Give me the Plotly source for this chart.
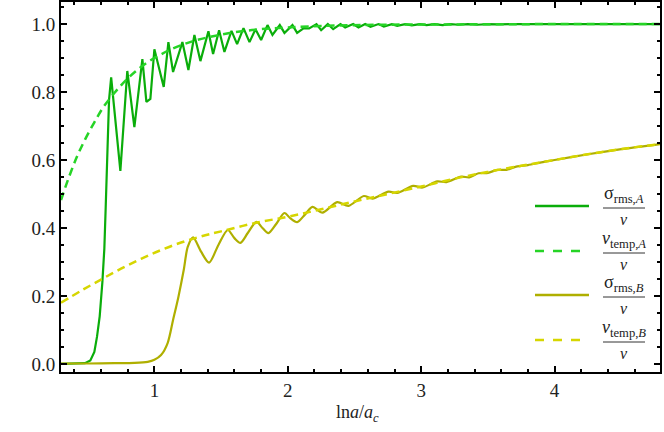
import plotly.graph_objects as go

# --- data ---
# sigma_rms,A / v  (green, solid)
srA_x = [0.30, 0.40, 0.48, 0.52, 0.55, 0.57, 0.59, 0.61, 0.625, 0.635, 0.648, 0.66, 0.676,
         0.745, 0.797, 0.85, 0.91, 0.94, 0.97, 1.00, 1.07, 1.105, 1.14, 1.21, 1.255, 1.30,
         1.345, 1.405, 1.44, 1.485, 1.525, 1.578, 1.62, 1.668, 1.713, 1.758, 1.80, 1.848,
         1.885, 1.94, 1.975, 2.035, 2.07, 2.12, 2.16, 2.215, 2.25, 2.30, 2.34, 2.395, 2.43,
         2.49, 2.53, 2.58, 2.62, 2.68, 2.72, 2.78, 2.82, 2.88, 2.93, 2.99, 3.04, 3.10, 3.16,
         3.22, 3.28, 3.35, 3.42, 3.50, 3.58, 3.70, 4.00, 4.79]
srA_y = [0.0, 0.0, 0.002, 0.01, 0.035, 0.08, 0.14, 0.24, 0.34, 0.46, 0.61, 0.776, 0.843,
         0.568, 0.862, 0.697, 0.897, 0.771, 0.78, 0.926, 0.815, 0.947, 0.859, 0.947, 0.865, 0.968,
         0.891, 0.979, 0.912, 0.982, 0.918, 0.98, 0.941, 0.988, 0.947, 0.985, 0.953, 0.997,
         0.968, 0.997, 0.974, 0.997, 0.974, 0.988, 0.987, 1.0, 0.982, 1.0, 0.985, 1.0, 0.99,
         1.0, 0.99, 1.0, 0.992, 1.0, 0.993, 1.0, 0.995, 1.0, 0.996, 1.0, 0.997, 1.0, 0.997,
         1.0, 0.998, 1.0, 0.998, 1.0, 0.999, 1.0, 1.0, 1.0]

# v_temp,A / v  (green, dashed)
vtA_x = [0.30, 0.36, 0.42, 0.48, 0.55, 0.62, 0.70, 0.78, 0.86, 0.95, 1.05, 1.15, 1.30,
         1.45, 1.60, 1.80, 2.00, 2.30, 2.70, 3.20, 4.00, 4.79]
vtA_y = [0.482, 0.55, 0.61, 0.66, 0.711, 0.757, 0.797, 0.832, 0.861, 0.888, 0.911, 0.93, 0.951,
         0.965, 0.976, 0.985, 0.99, 0.995, 0.998, 0.999, 1.0, 1.0]

# sigma_rms,B / v  (olive, solid)
srB_x = [0.30, 0.50, 0.70, 0.85, 0.95, 1.00, 1.05, 1.10, 1.14, 1.18, 1.22, 1.25, 1.29,
         1.35, 1.41, 1.48, 1.55, 1.60, 1.645, 1.70, 1.765, 1.81, 1.855, 1.91, 1.975, 2.02,
         2.07, 2.13, 2.185, 2.26, 2.37, 2.455, 2.57, 2.635, 2.755, 2.82, 2.94, 3.01, 3.12,
         3.19, 3.30, 3.36, 3.43, 3.50, 3.57, 3.64, 3.72, 3.80, 3.90, 4.00, 4.25, 4.50, 4.79]
srB_y = [0.001, 0.001, 0.002, 0.003, 0.006, 0.012, 0.026, 0.062, 0.129, 0.197, 0.276, 0.344, 0.372,
         0.33, 0.298, 0.35, 0.394, 0.37, 0.356, 0.385, 0.418, 0.40, 0.385, 0.41, 0.444, 0.428,
         0.417, 0.44, 0.462, 0.445, 0.476, 0.465, 0.494, 0.486, 0.507, 0.503, 0.524, 0.519, 0.537,
         0.535, 0.551, 0.549, 0.561, 0.562, 0.571, 0.571, 0.581, 0.585, 0.593, 0.600, 0.617, 0.632, 0.647]

# v_temp,B / v  (yellow, dashed)
vtB_x = [0.30, 0.45, 0.60, 0.75, 0.90, 1.05, 1.20, 1.35, 1.50, 1.75, 2.00, 2.25, 2.50,
         2.75, 3.00, 3.25, 3.50, 3.75, 4.00, 4.25, 4.50, 4.79]
vtB_y = [0.180, 0.215, 0.248, 0.28, 0.309, 0.335, 0.357, 0.375, 0.39, 0.414, 0.433, 0.455, 0.478,
         0.50, 0.522, 0.545, 0.565, 0.583, 0.60, 0.617, 0.632, 0.647]

x_ticks = [1, 2, 3, 4]

# legend text (numerator over v)
leg_num = ["σ<sub>rms,<i>A</i></sub>", "<i>v</i><sub>temp,<i>A</i></sub>",
           "σ<sub>rms,<i>B</i></sub>", "<i>v</i><sub>temp,<i>B</i></sub>"]
leg_den = "<i>v</i>"

GREEN = "#0aad0a"
GREEN_D = "#26d426"
OLIVE = "#afaf00"
YELLOW_D = "#d6d600"
FONT = "Liberation Serif"

fig = go.Figure()
fig.add_trace(go.Scatter(x=srA_x, y=srA_y, mode="lines", line=dict(color=GREEN, width=2.2)))
fig.add_trace(go.Scatter(x=vtA_x, y=vtA_y, mode="lines", line=dict(color=GREEN_D, width=2.5, dash="8px,5px", shape="spline")))
fig.add_trace(go.Scatter(x=srB_x, y=srB_y, mode="lines", line=dict(color=OLIVE, width=2.2, shape="spline", smoothing=0.8)))
fig.add_trace(go.Scatter(x=vtB_x, y=vtB_y, mode="lines", line=dict(color=YELLOW_D, width=2.5, dash="8px,5px", shape="spline")))

# plot area in pixels (for placing the hand-made legend)
L, R, T, B = 61, 660, 2, 372
def px(xp):
    return (xp - L) / (R - L)
def py(yp):
    return (B - yp) / (B - T)

rows = [206, 251, 295, 340]
styles = [(GREEN, None), (GREEN_D, "dash"), (OLIVE, None), (YELLOW_D, "dash")]
for r, (col, dash), num in zip(rows, styles, leg_num):
    fig.add_shape(type="line", xref="paper", yref="paper", x0=px(535), x1=px(589), y0=py(r), y1=py(r),
                  line=dict(color=col, width=2.5, dash=dash))
    bar = r + 2
    fig.add_shape(type="line", xref="paper", yref="paper", x0=px(603), x1=px(645), y0=py(bar), y1=py(bar),
                  line=dict(color="#333", width=1))
    fig.add_annotation(xref="paper", yref="paper", x=px(624), y=py(bar), text=num, showarrow=False,
                       xanchor="center", yanchor="bottom", font=dict(family=FONT, size=18, color="#222"))
    fig.add_annotation(xref="paper", yref="paper", x=px(624), y=py(bar + 1), text=leg_den, showarrow=False,
                       xanchor="center", yanchor="top", font=dict(family=FONT, size=16, color="#222"))

# x axis title
fig.add_annotation(xref="paper", yref="paper", x=px(357), y=py(413), text="ln<i>a</i>/<i>a</i><sub><i>c</i></sub>",
                   showarrow=False, xanchor="center", yanchor="middle",
                   font=dict(family=FONT, size=18, color="#222"))

axis_common = dict(showline=True, linewidth=2, linecolor="black", mirror="allticks",
                   ticks="inside", ticklen=6, tickwidth=1.5, tickcolor="black",
                   showgrid=False, zeroline=False, automargin=False,
                   tickfont=dict(family=FONT, size=19, color="#222"))

fig.update_xaxes(range=[0.3, 4.79], tickvals=x_ticks,
                 minor=dict(ticks="inside", ticklen=3, tickwidth=1.5, tickcolor="black", dtick=0.2, tick0=0, showgrid=False),
                 **axis_common)
fig.update_yaxes(range=[-0.024, 1.065], dtick=0.2, tick0=0, tickformat=".1f",
                 minor=dict(ticks="inside", ticklen=3, tickwidth=1.5, tickcolor="black", dtick=0.05, tick0=0, showgrid=False),
                 **axis_common)

fig.update_layout(width=664, height=432, showlegend=False,
                  margin=dict(l=L, r=664 - R, t=T, b=432 - B),
                  plot_bgcolor="white", paper_bgcolor="white",
                  font=dict(family=FONT))

# drop the browser's default 8px body margin so the figure sits at the page corner
fig.write_html("out.html", config={"displayModeBar": False},
               post_script="document.body.style.margin='0';")
